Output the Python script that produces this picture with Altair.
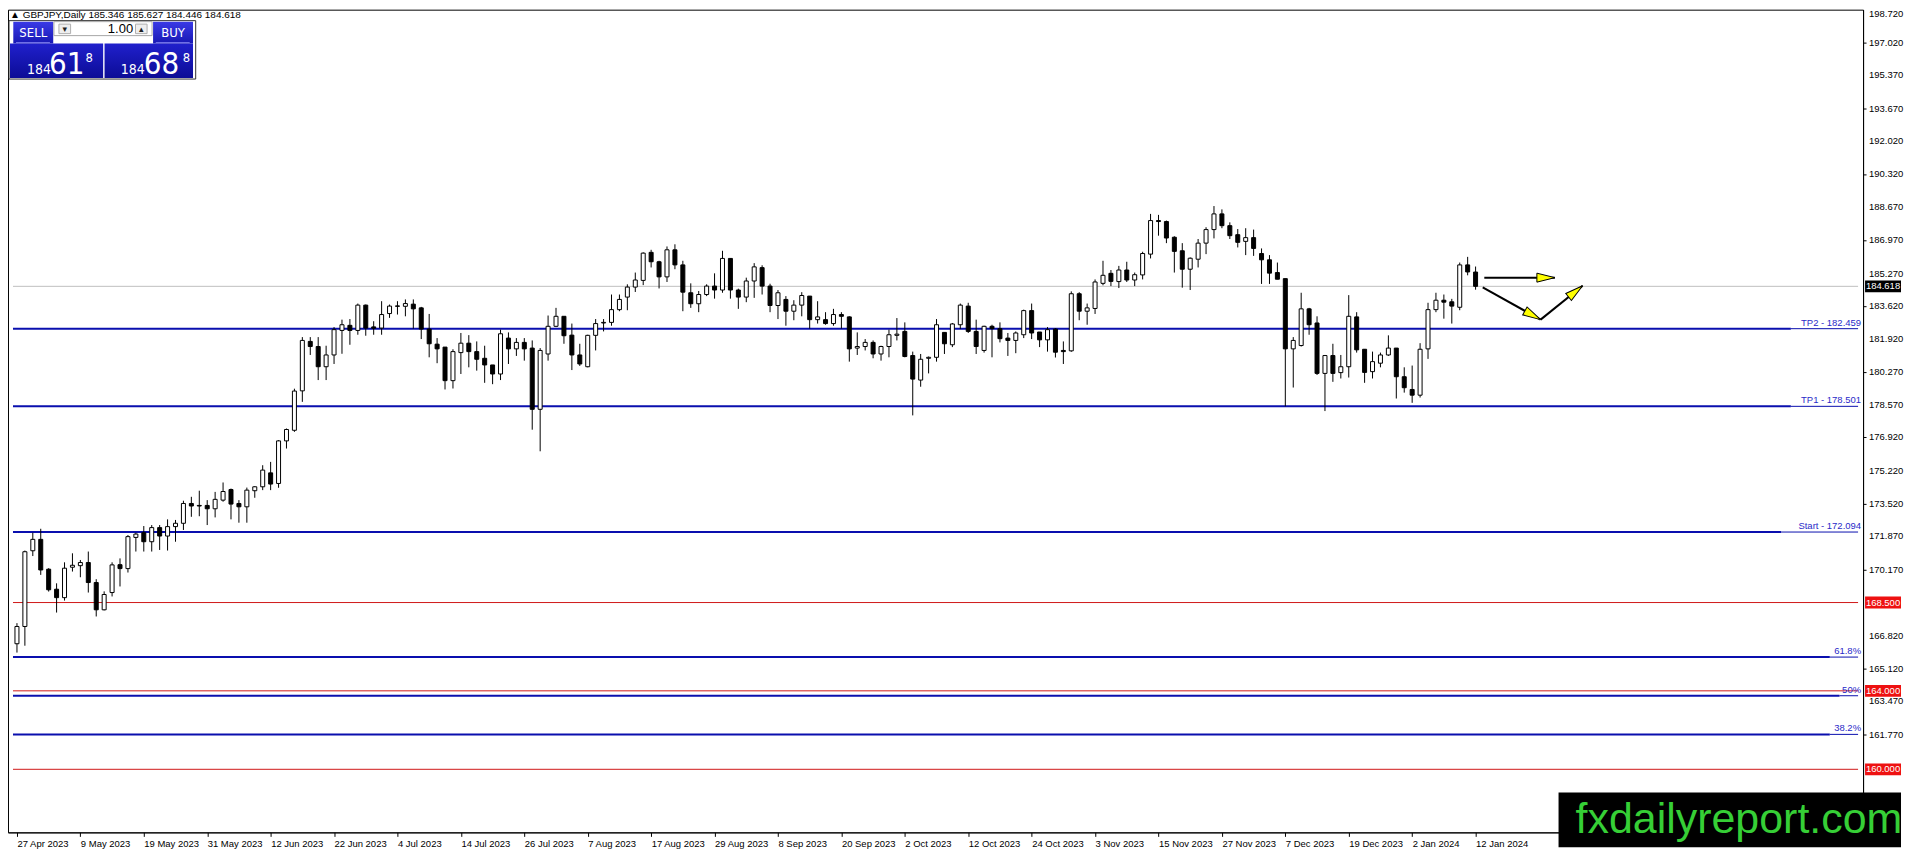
import json
import math
import altair as alt
import pandas as pd

# ------------------------------------------------------------------ data
opens = [166.40, 167.28, 171.14, 171.72, 170.20, 169.18, 168.75, 170.30, 170.38, 170.54,
         169.52, 168.13, 169.01, 170.43, 170.23, 171.82, 172.06, 171.60, 172.32, 171.89,
         172.37, 172.54, 173.55, 173.45, 173.45, 173.28, 173.72, 174.26, 173.55, 173.38,
         174.20, 174.40, 175.11, 174.57, 176.74, 177.28, 179.29, 181.81, 181.55, 180.52,
         181.12, 182.37, 182.63, 182.37, 183.66, 182.55, 182.49, 183.23, 183.62, 183.60,
         183.71, 183.52, 182.44, 181.67, 181.52, 179.81, 181.24, 181.72, 181.29, 180.95,
         180.61, 180.15, 181.98, 181.43, 181.76, 181.47, 178.35, 181.17, 182.58, 183.09,
         182.13, 181.12, 180.52, 182.12, 182.75, 182.78, 183.43, 184.07, 184.58, 184.92,
         186.35, 185.87, 185.10, 186.48, 185.71, 184.29, 183.73, 184.20, 184.63, 184.43,
         186.04, 184.43, 184.07, 184.89, 185.57, 184.63, 183.64, 183.95, 183.35, 183.66,
         184.12, 182.92, 182.92, 182.72, 183.18, 183.06, 181.47, 181.55, 181.76, 181.17,
         181.55, 182.12, 182.32, 181.09, 179.84, 180.95, 181.00, 182.27, 181.64, 182.66,
         183.61, 182.32, 181.35, 182.58, 182.46, 181.98, 181.86, 182.15, 183.38, 182.29,
         181.89, 182.44, 181.35, 181.33, 184.24, 183.35, 183.49, 184.77, 185.28, 184.86,
         185.45, 184.94, 185.20, 186.26, 187.97, 187.92, 187.12, 186.43, 185.49, 186.00,
         186.82, 187.51, 188.31, 187.71, 187.25, 186.91, 187.10, 186.29, 185.97, 185.32,
         185.01, 181.43, 181.60, 183.47, 182.75, 180.18, 181.09, 180.22, 180.52, 183.06,
         181.41, 180.27, 180.70, 181.12, 181.47, 180.01, 179.36, 179.07, 181.43, 183.43,
         183.91, 183.83, 183.55, 185.71, 185.346]
highs = [167.45, 171.15, 172.06, 172.26, 170.25, 169.48, 170.55, 171.01, 170.67, 171.10,
         169.69, 169.07, 170.55, 170.75, 171.94, 172.06, 172.40, 172.45, 172.45, 172.74,
         172.71, 173.69, 173.89, 174.20, 173.72, 174.14, 174.62, 174.31, 173.72, 174.36,
         174.43, 175.50, 175.67, 176.78, 177.37, 179.40, 182.03, 182.03, 182.03, 181.59,
         182.54, 182.92, 182.95, 183.74, 183.69, 182.84, 183.86, 183.69, 183.86, 183.95,
         183.95, 183.57, 183.21, 181.98, 181.52, 181.41, 182.24, 182.13, 181.81, 181.59,
         180.61, 182.41, 182.27, 181.98, 181.98, 181.86, 181.47, 183.13, 183.52, 183.09,
         182.72, 181.69, 182.15, 182.95, 182.95, 184.20, 184.20, 184.72, 185.32, 186.35,
         186.48, 185.92, 186.65, 186.76, 185.92, 184.77, 184.38, 184.72, 185.28, 186.43,
         186.04, 184.50, 185.06, 185.80, 185.69, 184.75, 184.43, 184.12, 183.91, 184.32,
         184.12, 183.86, 183.30, 183.47, 183.30, 183.09, 182.27, 181.93, 181.86, 181.59,
         182.41, 183.00, 182.78, 181.29, 181.17, 181.04, 182.95, 182.27, 182.75, 183.74,
         183.78, 182.92, 182.61, 182.66, 182.78, 182.24, 182.32, 183.43, 183.74, 182.29,
         182.54, 182.49, 181.81, 184.36, 184.32, 183.74, 184.97, 185.92, 185.45, 185.66,
         185.87, 185.32, 186.38, 188.31, 188.26, 187.97, 187.17, 186.82, 186.09, 187.03,
         187.63, 188.71, 188.54, 187.88, 187.54, 187.58, 187.51, 186.55, 186.21, 185.83,
         185.01, 182.03, 184.29, 183.52, 183.09, 181.12, 181.69, 181.12, 184.17, 183.30,
         181.41, 181.29, 181.24, 182.12, 181.47, 180.49, 180.58, 181.72, 183.78, 184.29,
         184.20, 183.98, 185.83, 186.12, 185.627]
lows = [165.95, 166.30, 170.87, 169.91, 169.06, 167.99, 168.60, 170.08, 169.79, 169.01,
        167.79, 168.10, 168.81, 169.32, 170.03, 171.10, 171.10, 171.10, 171.18, 171.15,
        171.60, 172.20, 172.87, 172.90, 172.45, 172.84, 173.64, 172.74, 172.57, 172.57,
        173.84, 174.23, 174.23, 174.35, 176.35, 177.20, 178.73, 181.12, 179.84, 179.84,
        180.66, 181.18, 181.64, 182.15, 182.10, 182.15, 182.15, 183.01, 183.18, 183.09,
        182.46, 181.93, 181.00, 180.70, 179.36, 179.41, 180.15, 180.49, 180.32, 179.70,
        179.63, 179.84, 180.66, 181.07, 180.83, 177.31, 176.21, 180.83, 182.54, 181.69,
        180.35, 180.56, 180.49, 181.35, 182.32, 182.61, 183.35, 183.40, 184.33, 184.68,
        185.58, 184.51, 184.84, 185.49, 183.35, 183.52, 183.30, 184.12, 183.99, 184.29,
        183.99, 183.47, 183.81, 184.03, 184.20, 183.30, 182.95, 182.61, 182.89, 183.09,
        182.46, 182.72, 182.66, 182.61, 182.46, 180.78, 181.12, 181.35, 180.95, 180.83,
        181.00, 181.86, 181.00, 178.04, 179.50, 180.18, 180.78, 181.17, 181.52, 182.44,
        182.24, 181.17, 181.24, 181.00, 181.76, 181.07, 181.21, 181.98, 181.93, 181.52,
        181.29, 180.99, 180.66, 181.28, 182.89, 182.66, 183.21, 184.67, 184.63, 184.53,
        184.84, 184.63, 184.97, 186.04, 187.20, 186.82, 185.32, 184.55, 184.43, 185.58,
        186.26, 187.06, 187.58, 187.03, 186.60, 186.21, 186.17, 184.74, 184.74, 184.98,
        178.50, 179.46, 181.55, 182.15, 180.10, 178.26, 179.75, 179.92, 179.97, 181.24,
        179.70, 179.92, 180.49, 181.07, 178.90, 179.20, 178.68, 178.95, 180.92, 183.30,
        182.97, 182.72, 183.40, 185.18, 184.446]
closes = [167.28, 171.09, 171.72, 170.16, 169.15, 168.75, 170.25, 170.40, 170.54, 169.52,
          168.13, 168.91, 170.42, 170.23, 171.86, 171.99, 171.60, 172.32, 171.89, 172.37,
          172.54, 173.55, 173.42, 173.42, 173.28, 173.76, 174.16, 173.52, 173.38, 174.23,
          174.40, 175.25, 174.54, 176.74, 177.32, 179.28, 181.86, 181.55, 180.52, 181.12,
          182.41, 182.66, 182.37, 183.66, 182.49, 182.48, 183.18, 183.61, 183.60, 183.74,
          183.47, 182.44, 181.69, 181.43, 179.81, 181.29, 181.72, 181.29, 180.90, 180.61,
          180.15, 182.20, 181.43, 181.76, 181.43, 178.35, 181.35, 182.58, 183.09, 182.10,
          181.12, 180.66, 182.12, 182.72, 182.78, 183.43, 183.95, 184.58, 184.94, 186.31,
          185.87, 185.10, 186.48, 185.71, 184.32, 183.73, 184.20, 184.63, 184.43, 186.04,
          184.43, 184.07, 184.89, 185.61, 184.63, 183.64, 184.29, 183.35, 183.66, 184.15,
          182.92, 183.06, 182.72, 183.18, 183.09, 181.43, 181.55, 181.76, 181.17, 181.55,
          182.15, 182.18, 181.04, 179.89, 180.90, 181.00, 182.66, 181.69, 182.70, 183.66,
          182.32, 181.55, 182.58, 182.46, 181.95, 181.86, 182.24, 183.38, 182.24, 181.89,
          182.41, 181.26, 181.29, 184.24, 183.35, 183.52, 184.84, 185.18, 184.87, 185.45,
          184.94, 185.21, 186.29, 187.97, 187.92, 187.08, 186.40, 185.49, 186.05, 186.82,
          187.51, 188.31, 187.71, 187.20, 186.86, 187.10, 186.55, 185.97, 185.29, 184.98,
          181.43, 181.86, 183.47, 182.66, 180.18, 181.09, 180.18, 180.52, 183.09, 181.38,
          180.23, 180.78, 181.12, 181.47, 180.01, 179.45, 179.07, 181.41, 183.43, 183.91,
          183.81, 183.61, 185.71, 185.35, 184.618]

date_labels = ["27 Apr 2023", "9 May 2023", "19 May 2023", "31 May 2023", "12 Jun 2023",
               "22 Jun 2023", "4 Jul 2023", "14 Jul 2023", "26 Jul 2023", "7 Aug 2023",
               "17 Aug 2023", "29 Aug 2023", "8 Sep 2023", "20 Sep 2023", "2 Oct 2023",
               "12 Oct 2023", "24 Oct 2023", "3 Nov 2023", "15 Nov 2023", "27 Nov 2023",
               "7 Dec 2023", "19 Dec 2023", "2 Jan 2024", "12 Jan 2024"]
label_step = 8

price_ticks = [198.72, 197.02, 195.37, 193.67, 192.02, 190.32, 188.67, 186.97, 185.27,
               183.62, 181.92, 180.27, 178.57, 176.92, 175.22, 173.52, 171.87, 170.17,
               166.82, 165.12, 163.47, 161.77]

blue_prices = [182.459, 178.501, 172.094, 165.72, 163.75, 161.78]
blue_texts = ["TP2 - 182.459", "TP1 - 178.501", "Start - 172.094", "61.8%", "50%", "38.2%"]
red_prices = [168.5, 164.0, 160.0]
last_price = 184.618

header_text = "\u25b2 GBPJPY,Daily  185.346 185.627 184.446 184.618"
sell_parts = ["184", "61", "8"]
buy_parts = ["184", "68", "8"]
lot_text = "1.00"
watermark = "fxdailyreport.com"

arrow_x1 = [185.1, 184.9, 192.2]
arrow_y1 = [185.06, 184.57, 182.92]
arrow_x2 = [194.0, 192.2, 197.5]
arrow_y2 = [185.06, 182.92, 184.65]

# ------------------------------------------------------------------ layout
W, H = 1858, 824
XDOM = [-0.5, 232.25]
YDOM = [156.786, 198.72]
SX = W / (XDOM[1] - XDOM[0])
SY = H / (YDOM[1] - YDOM[0])
FONT = "Liberation Sans"
NARROW = "Liberation Sans Narrow, DejaVu Sans Condensed, Liberation Sans"
BLUE = "#0a0fae"
BLUE_TXT = "#2a2ac8"
RED_LINE = "#d01818"
RED_BOX = "#ee1111"

def px_to_idx(px):
    return XDOM[0] + px / SX

xs = alt.Scale(domain=XDOM, nice=False, zero=False)
ys = alt.Scale(domain=YDOM, nice=False, zero=False)

candles = pd.DataFrame({
    "idx": list(range(len(opens))),
    "o": opens, "h": highs, "l": lows, "c": closes,
})
candles["lo"] = candles[["o", "c"]].min(axis=1)
candles["hi"] = candles[["o", "c"]].max(axis=1)
candles["dir"] = ["up" if c >= o else "down" for o, c in zip(opens, closes)]

label_expr = json.dumps(date_labels).replace('"', "'") + "[round(datum.value/%d)]" % label_step

x_axis = alt.Axis(values=list(range(0, len(opens), label_step)), labelExpr=label_expr,
                  title=None, grid=False, tickSize=4, labelAlign="left", labelBaseline="top",
                  labelPadding=2, labelFontSize=9.5, labelFont=FONT, labelColor="black",
                  labelFlush=False, labelOverlap=False, domainColor="black", tickColor="black")
y_axis = alt.Axis(orient="right", values=price_ticks, labels=False, title=None, grid=False,
                  tickSize=3, domainColor="black", tickColor="black")

# ---- level lines
blue_df = pd.DataFrame({"p": blue_prices, "t": blue_texts})
blue_df["xe"] = [px_to_idx(W - (len(t) * 4.9 + 4)) for t in blue_texts]
blue_df["x0"] = XDOM[0]
blue_df["x1"] = XDOM[1]
red_df = pd.DataFrame({"p": red_prices, "t": ["%.3f" % p for p in red_prices]})
red_df["x0"] = XDOM[0]
red_df["x1"] = XDOM[1]
last_df = pd.DataFrame({"p": [last_price], "t": ["%.3f" % last_price],
                        "x0": [XDOM[0]], "x1": [XDOM[1]]})
tick_df = pd.DataFrame({"p": price_ticks, "t": ["%.3f" % p for p in price_ticks]})
top_tick = tick_df[tick_df["p"] >= YDOM[1] - 0.2]
other_ticks = tick_df[tick_df["p"] < YDOM[1] - 0.2]

gray_line = alt.Chart(last_df).mark_rule(color="#c0c0c0", strokeWidth=1).encode(
    x=alt.X("x0:Q", scale=xs, axis=x_axis), x2="x1:Q",
    y=alt.Y("p:Q", scale=ys, axis=y_axis))
red_lines = alt.Chart(red_df).mark_rule(color=RED_LINE, strokeWidth=1).encode(
    x=alt.X("x0:Q", scale=xs, title=None), x2="x1:Q", y=alt.Y("p:Q", scale=ys, title=None))
blue_thick = alt.Chart(blue_df).mark_rule(color=BLUE, strokeWidth=2).encode(
    x=alt.X("x0:Q", scale=xs, title=None), x2="xe:Q", y=alt.Y("p:Q", scale=ys, title=None))
blue_thin = alt.Chart(blue_df).mark_rule(color=BLUE, strokeWidth=1).encode(
    x=alt.X("xe:Q", scale=xs, title=None), x2="x1:Q", y=alt.Y("p:Q", scale=ys, title=None))
blue_labels = alt.Chart(blue_df).mark_text(
    align="right", baseline="bottom", dy=-1, fontSize=9.5, font=FONT, color=BLUE_TXT).encode(
    x=alt.value(W - 2), y=alt.Y("p:Q", scale=ys, title=None), text="t:N")

# ---- price axis labels
axis_labels = alt.Chart(other_ticks).mark_text(
    align="left", baseline="middle", fontSize=9.5, font=FONT, color="black").encode(
    x=alt.value(W + 6), y=alt.Y("p:Q", scale=ys, title=None), text="t:N")
axis_top_label = alt.Chart(top_tick).mark_text(
    align="left", baseline="top", dy=-1, fontSize=9.5, font=FONT, color="black").encode(
    x=alt.value(W + 6), y=alt.Y("p:Q", scale=ys, title=None), text="t:N")

# ---- candles
wicks = alt.Chart(candles).mark_rule(color="black", strokeWidth=1).encode(
    x=alt.X("idx:Q", scale=xs, title=None),
    y=alt.Y("l:Q", scale=ys, title=None), y2="h:Q")
bodies = alt.Chart(candles).mark_bar(size=4, stroke="black", strokeWidth=1).encode(
    x=alt.X("idx:Q", scale=xs, title=None),
    y=alt.Y("lo:Q", scale=ys, title=None), y2="hi:Q",
    fill=alt.Fill("dir:N", scale=alt.Scale(domain=["up", "down"], range=["white", "black"]),
                  legend=None))

# ---- arrows
arrows = pd.DataFrame({"x1": arrow_x1, "y1": arrow_y1, "x2": arrow_x2, "y2": arrow_y2})
arrows["ang"] = [
    math.degrees(math.atan2(-(b2 - b1) * SY, (a2 - a1) * SX)) % 360
    for a1, b1, a2, b2 in zip(arrow_x1, arrow_y1, arrow_x2, arrow_y2)]
shafts = alt.Chart(arrows).mark_rule(color="black", strokeWidth=2).encode(
    x=alt.X("x1:Q", scale=xs, title=None), x2="x2:Q",
    y=alt.Y("y1:Q", scale=ys, title=None), y2="y2:Q")
heads = alt.Chart(arrows).mark_point(
    shape="M0,0L-2,-0.5L-2,0.5Z", size=324, filled=True, fill="#ffff00",
    stroke="black", strokeWidth=1, opacity=1).encode(
    x=alt.X("x2:Q", scale=xs, title=None), y=alt.Y("y2:Q", scale=ys, title=None),
    angle=alt.Angle("ang:Q", scale=None))

# ---- price boxes on right axis
BOX_SHAPE = "M-1,-0.33L1,-0.33L1,0.33L-1,0.33Z"
red_boxes = alt.Chart(red_df).mark_point(
    shape=BOX_SHAPE, size=1296, filled=True, fill=RED_BOX, opacity=1, strokeWidth=0).encode(
    x=alt.value(W + 20), y=alt.Y("p:Q", scale=ys, title=None))
red_box_text = alt.Chart(red_df).mark_text(
    align="center", baseline="middle", fontSize=9.5, font=FONT, color="white").encode(
    x=alt.value(W + 20), y=alt.Y("p:Q", scale=ys, title=None), text="t:N")
last_box = alt.Chart(last_df).mark_point(
    shape=BOX_SHAPE, size=1296, filled=True, fill="black", opacity=1, strokeWidth=0).encode(
    x=alt.value(W + 20), y=alt.Y("p:Q", scale=ys, title=None))
last_box_text = alt.Chart(last_df).mark_text(
    align="center", baseline="middle", fontSize=9.5, font=FONT, color="white").encode(
    x=alt.value(W + 20), y=alt.Y("p:Q", scale=ys, title=None), text="t:N")

# ---- trade panel
one = pd.DataFrame({"a": [1]})

def rect(x0, x1, y0, y1, **kw):
    return alt.Chart(one).mark_rect(**kw).encode(
        x=alt.value(x0), x2=alt.value(x1), y=alt.value(y0), y2=alt.value(y1))

def txt(x, y, s, **kw):
    return alt.Chart(one).mark_text(**kw).encode(x=alt.value(x), y=alt.value(y), text=alt.value(s))

grad_btn = alt.Gradient(gradient="linear", x1=0, x2=0, y1=0, y2=1, stops=[
    alt.GradientStop(color="#3a3ae6", offset=0), alt.GradientStop(color="#1818b4", offset=1)])
grad_box = alt.Gradient(gradient="linear", x1=0, x2=0, y1=0, y2=1, stops=[
    alt.GradientStop(color="#2020cc", offset=0), alt.GradientStop(color="#0c0c96", offset=1)])

panel = [
    rect(1, 188, 11, 69.5, fill="white", stroke="#303030", strokeWidth=1),
    rect(5.3, 45.3, 12, 34, fill=grad_btn),
    rect(145.3, 185.3, 12, 34, fill=grad_btn),
    rect(46, 144.3, 12, 26, fill="white", stroke="#a8a8a8", strokeWidth=1),
    rect(51, 62.7, 14.5, 24, fill="#eeeeee", stroke="#b0b0b0", strokeWidth=1),
    rect(127.7, 139.3, 14.5, 24, fill="#eeeeee", stroke="#b0b0b0", strokeWidth=1),
    rect(2, 95.3, 34, 68.5, fill=grad_box),
    rect(96.7, 185.3, 34, 68.5, fill=grad_box),
    rect(8, 42, 32.3, 33.3, fill="#7070e8"),
    rect(148, 182, 32.3, 33.3, fill="#7070e8"),
    txt(56.8, 19.5, "\u25be", align="center", baseline="middle", fontSize=9, font="DejaVu Sans",
        color="#202020"),
    txt(133.5, 19.5, "\u25b4", align="center", baseline="middle", fontSize=9, font="DejaVu Sans",
        color="#202020"),
    txt(125.3, 19.5, lot_text, align="right", baseline="middle", fontSize=13, font=FONT,
        color="black"),
    txt(25.3, 23, "SELL", align="center", baseline="middle", fontSize=13, font=NARROW,
        color="white"),
    txt(165.3, 23, "BUY", align="center", baseline="middle", fontSize=13, font=NARROW,
        color="white"),
    txt(19, 64.7, sell_parts[0], align="left", baseline="alphabetic", fontSize=14, font=NARROW,
        color="white"),
    txt(41, 64.7, sell_parts[1], align="left", baseline="alphabetic", fontSize=31, font=NARROW,
        color="white"),
    txt(77.7, 42, sell_parts[2], align="left", baseline="top", fontSize=13, font=NARROW,
        color="white"),
    txt(113, 64.7, buy_parts[0], align="left", baseline="alphabetic", fontSize=14, font=NARROW,
        color="white"),
    txt(136, 64.7, buy_parts[1], align="left", baseline="alphabetic", fontSize=31, font=NARROW,
        color="white"),
    txt(175, 42, buy_parts[2], align="left", baseline="top", fontSize=13, font=NARROW,
        color="white"),
    txt(2, 0, header_text, align="left", baseline="top", fontSize=10, font=FONT, color="black"),
]

# ---- watermark
wm = [
    rect(1553, 1896, 784, 839, fill="black"),
    txt(1570, 825, watermark, align="left", baseline="alphabetic", fontSize=43, font=FONT,
        color="#36cf36"),
]

chart = alt.layer(
    gray_line, red_lines, blue_thick, blue_thin, blue_labels,
    wicks, bodies, shafts, heads,
    axis_labels, axis_top_label,
    red_boxes, red_box_text, last_box, last_box_text,
    *panel, *wm,
).properties(width=W, height=H, padding=0, background="white").configure_view(
    stroke="black", strokeWidth=1)

chart.save("out.html", embed_options={"renderer": "svg", "actions": False})
